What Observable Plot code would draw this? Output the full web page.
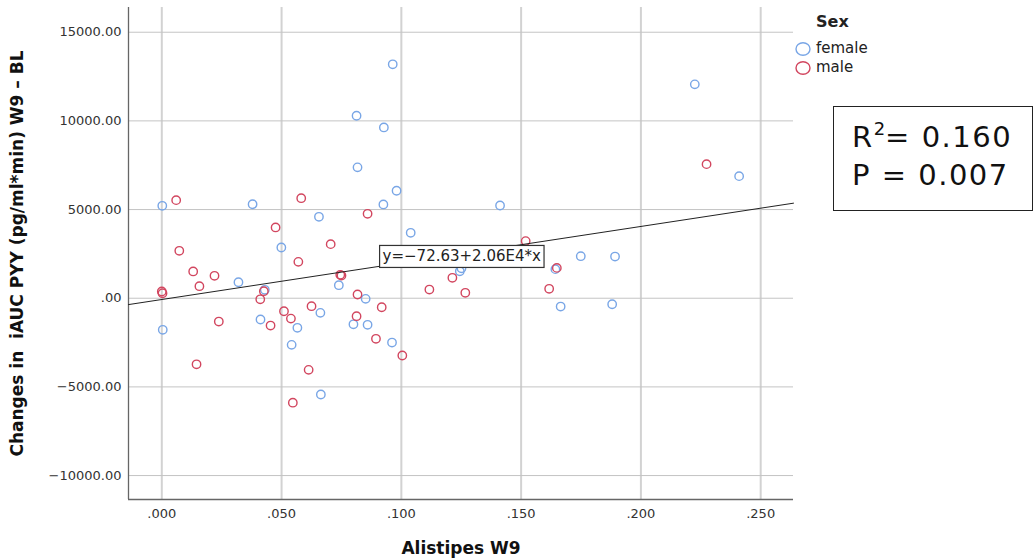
<!DOCTYPE html>
<html><head><meta charset="utf-8">
<script src="https://cdn.jsdelivr.net/npm/d3@7"></script>
<script src="https://cdn.jsdelivr.net/npm/@observablehq/plot@0.6"></script>
<style>
body{margin:0;background:#fff;}
#wrap{position:relative;width:1034px;height:559px;font-family:"DejaVu Sans",sans-serif;overflow:hidden;}
#legend{position:absolute;left:794px;top:12px;color:#222;}
#legend .ttl{font-weight:bold;font-size:16px;margin-left:22px;line-height:20px;margin-bottom:7px;}
#legend .row{font-size:15px;line-height:19px;display:flex;align-items:center;}
#legend svg{margin-right:2px;}
#stats{position:absolute;left:833px;top:106px;width:200px;height:105px;border:1px solid #222;box-sizing:border-box;
  font-size:29px;letter-spacing:1.5px;color:#111;padding:11px 0 0 18px;line-height:38px;}
#stats sup{font-size:18px;vertical-align:12px;line-height:0;letter-spacing:0;}
</style></head><body><div id="wrap"></div>
<script>
// ---- data ----
const femaleX = [0.0964,0.0813,0.0927,0.0817,0.0980,0.0002,0.0379,0.0925,0.0656,0.0499,0.2225,0.2410,0.1412,0.1039,0.1749,0.1892,0.1643,0.1251,0.1244,0.1665,0.1880,0.0961,0.0004,0.0320,0.0430,0.0412,0.0566,0.0542,0.0662,0.0664,0.0739,0.0851,0.0800,0.0859];
const femaleY = [13190,10290,9630,7380,6060,5210,5300,5290,4590,2860,12060,6885,5230,3690,2370,2350,1640,1690,1520,-470,-340,-2500,-1780,900,475,-1200,-1670,-2630,-825,-5430,735,-35,-1470,-1500];
const maleX = [0.0060,0.0582,0.0859,0.0475,0.0705,0.0073,0.0570,0.0131,0.0220,0.0745,0.0750,0.2274,0.1519,0.1649,0.1213,0.1117,0.1267,0.1617,0.0918,0.1004,0.0000,0.0003,0.0157,0.0238,0.0145,0.0426,0.0411,0.0454,0.0510,0.0539,0.0625,0.0613,0.0547,0.0817,0.0813,0.0894];
const maleY = [5530,5640,4760,3990,3050,2675,2050,1510,1265,1320,1280,7560,3220,1710,1150,490,305,530,-510,-3230,380,280,680,-1315,-3725,395,-60,-1540,-735,-1150,-450,-4040,-5890,210,-1015,-2290];
const sexes = ["female","male"];
const sexColors = ["#79a6e6","#d2465f"];
const xTicks = [0,0.05,0.1,0.15,0.2,0.25];
const yTicks = [-10000,-5000,0,5000,10000,15000];
const xDomain = [-0.0139,0.2637];
const yDomain = [-11350,16394];
const intercept = -72.63;
const slope = 20600;
const eqText = "y=−72.63+2.06E4*x";
const eqAtX = 0.0905;
const xTitle = "Alistipes W9";
const yTitle = "Changes in  iAUC PYY (pg/ml*min) W9 – BL";
const statR2 = "0.160";
const statP = "0.007";

// ---- build table ----
const rows = [
  ...femaleX.map((x,i)=>({x, y: femaleY[i], sex: "female"})),
  ...maleX.map((x,i)=>({x, y: maleY[i], sex: "male"}))
];
const fitLine = xDomain.map(x => ({x, y: intercept + slope*x}));
const eqAnchor = [{x: eqAtX, y: intercept + slope*eqAtX}];

const xFmt = d => d.toFixed(3).replace(/^0/, "");
const yFmt = d => d === 0 ? ".00" : d.toFixed(2).replace("-", "−");

const chart = Plot.plot({
  width: 1034, height: 559,
  marginLeft: 128, marginRight: 241, marginTop: 7, marginBottom: 60,
  style: {fontFamily: "DejaVu Sans, sans-serif", background: "#fff"},
  x: {domain: xDomain},
  y: {domain: yDomain},
  color: {domain: sexes, range: sexColors},
  marks: [
    Plot.gridX(xTicks, {stroke: "#d2d2d2", strokeOpacity: 1, strokeWidth: 2}),
    Plot.gridY(yTicks, {stroke: "#c4c4c4", strokeOpacity: 1, strokeWidth: 1}),
    Plot.ruleX([xDomain[0]], {stroke: "#666", strokeWidth: 1.3}),
    Plot.ruleY([yDomain[0]], {stroke: "#666", strokeWidth: 1.3}),
    Plot.axisX(xTicks, {tickFormat: xFmt, tickSize: 0, tickPadding: 9, fontSize: 13, fill: "#333",
      label: xTitle, labelAnchor: "center", labelOffset: 54, labelArrow: "none"}),
    Plot.axisY(yTicks, {tickFormat: yFmt, tickSize: 0, tickPadding: 7, fontSize: 13, fill: "#333",
      label: yTitle, labelAnchor: "center", labelOffset: 118, labelArrow: "none"}),
    Plot.dot(rows, {x: "x", y: "y", stroke: "sex", r: 4.2, strokeWidth: 1.4, fill: "none"}),
    Plot.line(fitLine, {x: "x", y: "y", stroke: "#222", strokeWidth: 1}),
    Plot.text(eqAnchor, {x: "x", y: "y", text: () => eqText, textAnchor: "start", lineAnchor: "bottom",
      dx: 4, dy: -5, fontSize: 15, fill: "#222"})
  ]
});

const wrap = document.getElementById("wrap");
wrap.appendChild(chart);

// axis title styling
d3.select(chart).selectAll('g[aria-label="x-axis label"] text, g[aria-label="y-axis label"] text')
  .attr("font-weight", "bold").attr("font-size", 17).attr("fill", "#111");

// box behind regression equation
d3.select(chart).selectAll("text").filter(function() { return this.textContent === eqText; }).each(function() {
  const b = this.getBBox();
  const pad = 3;
  const r = document.createElementNS("http://www.w3.org/2000/svg", "rect");
  const t = this.getAttribute("transform");
  if (t) r.setAttribute("transform", t);
  r.setAttribute("x", b.x - pad);
  r.setAttribute("y", b.y - pad + 1);
  r.setAttribute("width", b.width + 2*pad);
  r.setAttribute("height", b.height + 2*pad - 2);
  r.setAttribute("fill", "#fff");
  r.setAttribute("stroke", "#333");
  r.setAttribute("stroke-width", 1.2);
  this.parentNode.insertBefore(r, this);
});

// legend
const legend = document.createElement("div");
legend.id = "legend";
legend.innerHTML = `<div class="ttl">Sex</div>` + sexes.map((s,i) =>
  `<div class="row"><svg width="20" height="16"><ellipse cx="9" cy="8" rx="7" ry="6.3" fill="none" stroke="${sexColors[i]}" stroke-width="1.4"/></svg>${s}</div>`).join("");
wrap.appendChild(legend);

// stats box
const stats = document.createElement("div");
stats.id = "stats";
stats.innerHTML = `R<sup>2</sup>= ${statR2}<br>P = ${statP}`;
wrap.appendChild(stats);
</script></body></html>
